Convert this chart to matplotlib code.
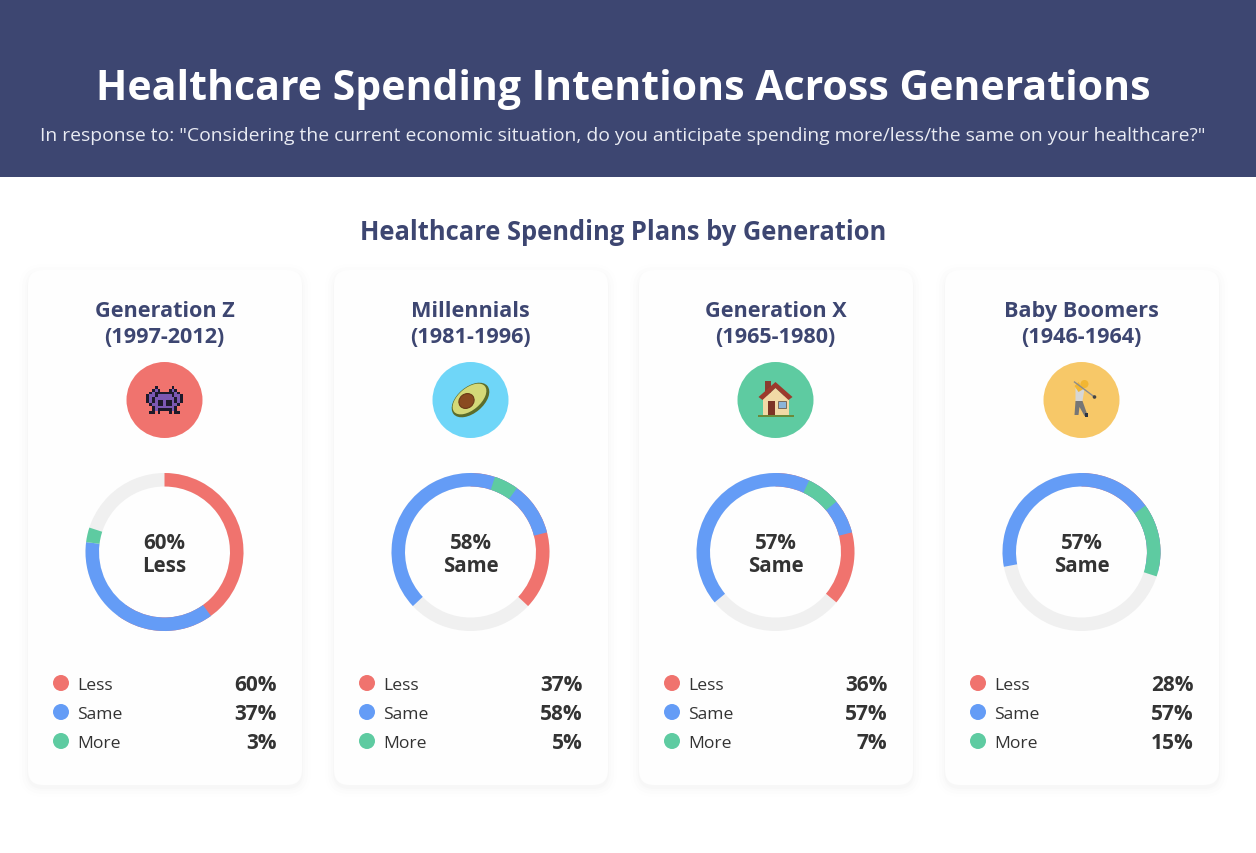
import matplotlib
matplotlib.use('Agg')
import matplotlib.pyplot as plt
from matplotlib.patches import Rectangle, FancyBboxPatch, Circle, Ellipse, Polygon

plt.rcParams['font.family'] = ['Open Sans', 'DejaVu Sans']

# chart data
generations = ['Generation Z\n(1997-2012)', 'Millennials\n(1981-1996)', 'Generation X\n(1965-1980)', 'Baby Boomers\n(1946-1964)']
categories = ['Less', 'Same', 'More']
less = [60, 37, 36, 28]
same = [37, 58, 57, 57]
more = [3, 5, 7, 15]
# where each ring layer starts, in percent clockwise from the top
same_start = [40, 63, 64, 72]
more_start = [77, 5, 7, 15]
center_values = ['60%\nLess', '58%\nSame', '57%\nSame', '57%\nSame']

W, H = 1256, 854
NAVY = '#3d4671'
DARK = '#333333'
LESS_C = '#f0736e'
SAME_C = '#649cf6'
MORE_C = '#5ecba1'
RING_BG = '#f0f0f0'
ICON_COLORS = ['#f0736e', '#6fd6f8', '#5ecba1', '#f7c868']
cat_colors = [LESS_C, SAME_C, MORE_C]

fig = plt.figure(figsize=(W / 100, H / 100), dpi=100, facecolor='white')
bg = fig.add_axes([0, 0, 1, 1])
bg.set_xlim(0, W)
bg.set_ylim(H - 1, -1)
bg.axis('off')


def alien(ax, cx, cy):
    rows = ['...k.....k...',
            '..kpk...kpk..',
            '.kpkkkkkkkpk.',
            'kppkpppppkppk',
            'kpkpppppppkpk',
            'kpkpkkpkkpkpk',
            '.kppkkpkkppk.',
            '..kpppppppk..',
            '..kpkkkkkpk..',
            '.kk.k...k.kk.']
    s = 2.8
    for j, row in enumerate(rows):
        for i, c in enumerate(row):
            if c == '.':
                continue
            col = '#1d1a2a' if c == 'k' else '#7b58b3'
            ax.add_patch(Rectangle((cx + (i - 6.5) * s, cy + (j - 5) * s), s, s, fc=col, ec='none', zorder=5))


def avocado(ax, cx, cy):
    ax.add_patch(Ellipse((cx, cy), 44, 26, angle=-40, fc='#5c6d2b', ec='none', zorder=5))
    ax.add_patch(Ellipse((cx - 1, cy - 1), 40, 22, angle=-40, fc='#d4d978', ec='none', zorder=6))
    ax.add_patch(Ellipse((cx - 4, cy + 1), 16, 14, angle=-40, fc='#8a4a20', ec='#6b3a17', lw=0.8, zorder=7))


def house(ax, cx, cy):
    ax.add_patch(Rectangle((cx - 11, cy - 19), 6, 12, fc='#8a3b2e', zorder=5))
    ax.add_patch(Rectangle((cx - 13, cy - 4), 26, 20, fc='#f2d9a6', zorder=5))
    ax.add_patch(Polygon([[cx - 17, cy - 3], [cx, cy - 18], [cx + 17, cy - 3], [cx + 13, cy], [cx, cy - 12], [cx - 13, cy]], fc='#9c3a2c', zorder=6))
    ax.add_patch(Polygon([[cx - 13, cy], [cx, cy - 12], [cx + 13, cy]], fc='#f2d9a6', zorder=5))
    ax.add_patch(Rectangle((cx - 8, cy + 1), 7, 15, fc='#7d3325', zorder=6))
    ax.add_patch(Rectangle((cx + 2, cy + 1), 8, 7, fc='#8cb4d8', ec='#6f5b4a', lw=0.6, zorder=6))
    ax.add_patch(Rectangle((cx - 18, cy + 15), 36, 2, fc='#6b8a3a', zorder=6))


def golfer(ax, cx, cy):
    ax.add_patch(Circle((cx + 3, cy - 16), 4, fc='#f2b632', zorder=6))
    ax.add_patch(Polygon([[cx - 6, cy - 13], [cx + 3, cy - 11], [cx + 1, cy + 1], [cx - 6, cy + 1]], fc='#d6d6d6', zorder=5))
    ax.add_patch(Polygon([[cx - 6, cy + 1], [cx + 1, cy + 1], [cx + 6, cy + 15], [cx + 3, cy + 16], [cx - 2, cy + 7], [cx - 3, cy + 15], [cx - 7, cy + 15]], fc='#767676', zorder=5))
    ax.add_patch(Polygon([[cx - 7, cy - 14], [cx - 3, cy - 18], [cx + 2, cy - 11], [cx - 3, cy - 8]], fc='#f2b632', zorder=6))
    ax.plot([cx - 7, cx + 13], [cy - 18, cy - 3], color='#8c8c8c', lw=1, zorder=6)
    ax.add_patch(Circle((cx + 13, cy - 3), 1.8, fc='#444444', zorder=6))
    ax.add_patch(Rectangle((cx + 3, cy + 13), 3, 4, fc='#2c3440', zorder=6))


icons = [alien, avocado, house, golfer]

# header
bg.add_patch(Rectangle((0, -1), W, 178, fc=NAVY, ec='none'))
bg.text(623.5, 88, 'Healthcare Spending Intentions Across Generations', color='white', fontsize=29.5,
        fontweight='bold', ha='center', va='center')
bg.text(623, 135, 'In response to: "Considering the current economic situation, do you anticipate spending more/less/the same on your healthcare?"',
        color='#e9ebf3', fontsize=13.9, ha='center', va='center')
bg.text(623, 232, 'Healthcare Spending Plans by Generation', color=NAVY, fontsize=18.4,
        fontweight='bold', ha='center', va='center')

card_left = [28, 334, 639, 945]
card_w, card_top, card_h = 274, 270, 515
ring_r = 79
ring_w = 13.5 / ring_r

for i, name in enumerate(generations):
    x0 = card_left[i]
    cx = x0 + card_w / 2 - 0.5
    # soft card shadow
    for grow, alpha in [(9, 0.005), (6, 0.006), (3, 0.008), (1, 0.010)]:
        bg.add_patch(FancyBboxPatch((x0 - grow, card_top + 3 - grow), card_w + 2 * grow, card_h + 2 * grow,
                                    boxstyle='round,pad=0,rounding_size=%d' % (15 + grow),
                                    fc='black', ec='none', alpha=alpha, zorder=1))
    bg.add_patch(FancyBboxPatch((x0, card_top), card_w, card_h, boxstyle='round,pad=0,rounding_size=15',
                                fc='#fefefe', ec='none', zorder=2))

    bg.text(cx, 323.5, name, color=NAVY, fontsize=15.6, fontweight='bold', ha='center', va='center',
            linespacing=1.28, zorder=3)
    bg.add_patch(Circle((cx, 400), 38, fc=ICON_COLORS[i], ec='none', zorder=3))
    icons[i](bg, cx, 400)

    # ring, each layer is its own pie drawn over the last one
    pad = 1.1
    side = 2 * ring_r * pad
    ax = fig.add_axes([(cx - side / 2) / W, 1 - (553 + side / 2) / H, side / W, side / H])
    ax.set_zorder(2)
    ax.patch.set_alpha(0)
    ax.pie([100], colors=[RING_BG], radius=1, wedgeprops={'width': ring_w})
    layers = [(less[i], 0, LESS_C), (same[i], same_start[i], SAME_C), (more[i], more_start[i], MORE_C)]
    for value, start, color in layers:
        ax.pie([value, 100 - value], colors=[color, 'none'], radius=1, counterclock=False,
               startangle=90 - start * 3.6, wedgeprops={'width': ring_w, 'linewidth': 0})
    ax.set_xlim(-pad, pad)
    ax.set_ylim(-pad, pad)
    ax.text(0, -0.025, center_values[i], color=DARK, fontsize=14.8, fontweight='bold', ha='center', va='center', linespacing=1.12)

    # legend rows
    for k, (label, vals) in enumerate(zip(categories, [less, same, more])):
        y = 683 + k * 29
        bg.add_patch(Circle((x0 + 33, y), 8, fc=cat_colors[k], ec='none', zorder=3))
        bg.text(x0 + 49.5, y + 2, label, color=DARK, fontsize=12.6, ha='left', va='center', zorder=3)
        bg.text(x0 + 248.5, y + 2, '%d%%' % vals[i], color=DARK, fontsize=15, fontweight='bold', ha='right', va='center', zorder=3)

fig.savefig('out.png', dpi=100, facecolor='white')
